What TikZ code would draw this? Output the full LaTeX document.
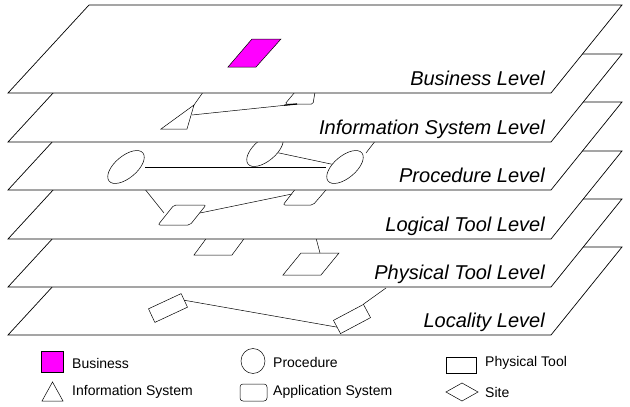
\documentclass[tikz,border=0pt]{standalone}
\usepackage{fontspec}
\setmainfont{Liberation Sans}
\usetikzlibrary{shapes.geometric}
\definecolor{bizmag}{RGB}{255,0,255}
\begin{document}
\begin{tikzpicture}[x=1pt,y=-1pt,
  plane/.style={draw=black,fill=white,line width=0.7pt},
  obj/.style={draw=black,fill=white,line width=0.5pt},
  link/.style={draw=black,line width=0.5pt},
  lvl/.style={font=\fontsize{20}{20}\selectfont\itshape,anchor=base east,inner sep=0pt},
  leg/.style={font=\fontsize{14}{14}\selectfont,anchor=west,inner sep=0pt},
  proc/.style={obj,ellipse,rotate=40,minimum width=44pt,minimum height=22pt,inner sep=0pt}]
\useasboundingbox (0,0) rectangle (630,407);
\def\plane#1#2#3{%
  \draw[plane] (8,#1) -- (551,#1) -- (622,#1-88) -- (89,#1-88) -- cycle;
  \node[lvl] (#2) at (545,#1-8) {#3};}
% Locality
\plane{335}{loc}{Locality Level}
\coordinate (lt) at (386,288);
\node[obj,rotate=25,minimum width=36pt,minimum height=15pt,inner sep=0pt] (s1) at (168,308) {};
\node[obj,rotate=28,minimum width=34pt,minimum height=15pt,inner sep=0pt] (s2) at (352,319) {};
\draw[link] (s1.east) -- (s2.west);
\draw[link] (s2.north east) -- (lt);
% Physical
\plane{287}{phy}{Physical Tool Level}
\draw[obj] (194,255) -- (214,228) -- (252,228) -- (232,255) -- cycle;
\draw[obj] (283,275) -- (301,253) -- (339,253) -- (321,275) -- cycle;
\coordinate (p2t) at (320,253);
\coordinate (p2u) at (316,238);
\draw[link] (p2t) -- (p2u);
% Logical
\plane{239}{log}{Logical Tool Level}
\draw[obj,rounded corners=2pt] (158,225) -- (174,205) -- (206,205) -- (190,225) -- cycle;
\draw[obj,rounded corners=2pt] (283,205) -- (300,183) -- (332,183) -- (313,205) -- cycle;
\coordinate (a1) at (164,213);
\coordinate (a1u) at (140,183);
\coordinate (a1r) at (200,213);
\coordinate (a2l) at (292,194);
\draw[link] (a1) -- (a1u);
\draw[link] (a1r) -- (a2l);
% Procedure
\plane{190}{pro}{Procedure Level}
\node[proc] (e3) at (265,150) {};
\node[proc] (e1) at (126,167) {};
\node[proc] (e2) at (345,167) {};
\coordinate (e2u) at (376,140);
\draw[link] (e1.center) ++(19,0) -- (326,167);
\draw[link] (e3) -- (e2);
\draw[link] (366,153) -- (e2u);
% Information
\plane{142}{inf}{Information System Level}
\draw[obj,rounded corners=1.5pt] (285,104) -- (300,86) -- (316,86) -- (313,104) -- cycle;
\draw[obj] (161,129) -- (194,105) -- (187,129) -- cycle;
\coordinate (tu) at (206,88);
\draw[link] (194,105) -- (tu);
\draw[link] (192,115) -- (297,104);
\draw[line width=1.2pt] (284,105.2) -- (297,104);
% Business
\plane{93}{bus}{Business Level}
\draw[draw=black,fill=bizmag,line width=0.5pt] (228,67) -- (252,39) -- (281,39) -- (256,67) -- cycle;
% Legend
\node[draw=black,fill=bizmag,minimum width=22pt,minimum height=21pt,inner sep=0pt] (lb) at (52,362) {};
\node[leg] (tb) at (72,363) {Business};
\draw[obj] (42,401) -- (52.5,382) -- (63,401) -- cycle;
\node[leg] (ti) at (72,392) {Information System};
\node[obj,ellipse,minimum width=24pt,minimum height=25pt,inner sep=0pt] (lp) at (253,361) {};
\node[leg] (tp) at (273,362) {Procedure};
\node[obj,rounded corners=3pt,minimum width=27pt,minimum height=17pt,inner sep=0pt] (la) at (253.5,392.5) {};
\node[leg] (ta) at (273,392) {Application System};
\node[obj,minimum width=30pt,minimum height=16pt,inner sep=0pt] (lr) at (461,365) {};
\node[leg] (tr) at (485,363) {Physical Tool};
\draw[obj] (446,392) -- (462,383) -- (478,392) -- (462,401) -- cycle;
\node[leg] (ts) at (485,392) {Site};
\end{tikzpicture}
\end{document}
